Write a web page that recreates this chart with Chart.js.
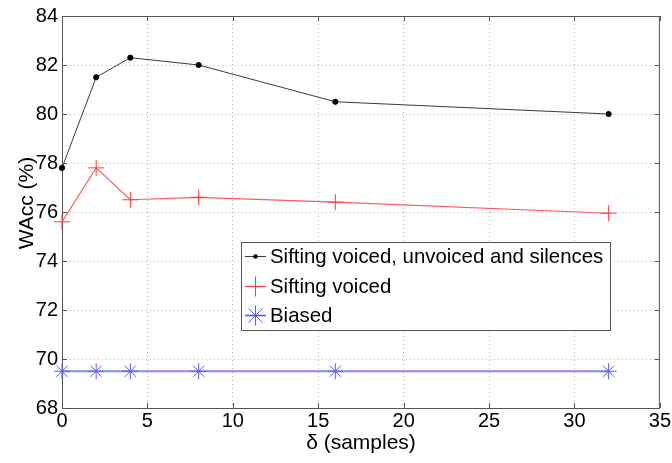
<!DOCTYPE html>
<html><head><meta charset="utf-8">
<script src="https://cdn.jsdelivr.net/npm/chart.js@4"></script>
<style>html,body{margin:0;padding:0;background:#fff;overflow:hidden}</style>
</head><body><canvas id="c" width="672" height="463" style="width:672px;height:463px;display:block"></canvas>
<script>
const deltas = [0, 2, 4, 8, 16, 32];
const siftAll = [77.8, 81.5, 82.3, 82.0, 80.5, 80.0];
const siftVoiced = [75.6, 77.8, 76.5, 76.6, 76.4, 75.95];
const biased = [69.5, 69.5, 69.5, 69.5, 69.5, 69.5];
const seriesLabels = ['Sifting voiced, unvoiced and silences', 'Sifting voiced', 'Biased'];
const xTicks = [0, 5, 10, 15, 20, 25, 30, 35];
const yTicks = [68, 70, 72, 74, 76, 78, 80, 82, 84];
const xTitle = 'δ (samples)';
const yTitle = 'WAcc (%)';

const FONT = "'Liberation Sans', Arial, Helvetica, sans-serif";
const TICKFONT = "'Liberation Sans Narrow', 'Arial Narrow', 'Liberation Sans', Arial, sans-serif";
const toPts = ys => deltas.map((x, i) => ({x, y: ys[i]}));

const styles = [
  {line: '#3a3a3a', lw: 1, mk: 'circle', mc: '#000000', r: 2.6},
  {line: '#ff5a5a', lw: 1.2, mk: 'cross', mc: '#ff3b3b', r: 8},
  {line: '#8a8aff', lw: 2, mk: 'star', mc: '#5a5aff', r: 8}
];

function drawMarker(ctx, type, x, y, r, color) {
  ctx.save();
  ctx.strokeStyle = color; ctx.fillStyle = color; ctx.lineWidth = 1;
  ctx.beginPath();
  if (type === 'circle') {
    ctx.arc(x, y, r, 0, Math.PI * 2); ctx.fill();
  } else {
    ctx.moveTo(x - r, y); ctx.lineTo(x + r, y);
    ctx.moveTo(x, y - r); ctx.lineTo(x, y + r);
    if (type === 'star') {
      const d = r * 0.7071;
      ctx.moveTo(x - d, y - d); ctx.lineTo(x + d, y + d);
      ctx.moveTo(x - d, y + d); ctx.lineTo(x + d, y - d);
    }
    ctx.stroke();
  }
  ctx.restore();
}

const framePlugin = {
  id: 'frame',
  beforeDatasetsDraw(chart) {
    const {ctx, chartArea: a, scales} = chart;
    ctx.save();
    ctx.strokeStyle = '#555'; ctx.lineWidth = 1;
    ctx.strokeRect(a.left + 0.5, a.top + 0.5, a.right - a.left - 1, a.bottom - a.top);
    ctx.beginPath();
    const tl = 5;
    xTicks.forEach(v => {
      const px = Math.round(scales.x.getPixelForValue(v)) + 0.5;
      ctx.moveTo(px, a.bottom); ctx.lineTo(px, a.bottom - tl);
      ctx.moveTo(px, a.top); ctx.lineTo(px, a.top + tl);
    });
    yTicks.forEach(v => {
      const py = Math.round(scales.y.getPixelForValue(v)) + 0.5;
      ctx.moveTo(a.left, py); ctx.lineTo(a.left + tl, py);
      ctx.moveTo(a.right, py); ctx.lineTo(a.right - tl, py);
    });
    ctx.stroke();
    ctx.restore();
  },
  afterDatasetsDraw(chart) {
    const {ctx} = chart;
    // legend
    const L = 241, T = 242, R = 610, B = 330;
    ctx.save();
    ctx.fillStyle = '#fff';
    ctx.fillRect(L, T, R - L, B - T);
    ctx.strokeStyle = '#555'; ctx.lineWidth = 1;
    ctx.strokeRect(L + 0.5, T + 0.5, R - L, B - T);
    ctx.font = '20.4px ' + FONT;
    ctx.textBaseline = 'alphabetic';
    ctx.fillStyle = '#000';
    const rows = [256, 286, 315];
    chart.data.datasets.forEach((ds, i) => {
      const st = styles[i];
      const y = rows[i];
      ctx.strokeStyle = st.line; ctx.lineWidth = st.lw;
      ctx.beginPath(); ctx.moveTo(245, y + 0.5); ctx.lineTo(266, y + 0.5); ctx.stroke();
      drawMarker(ctx, st.mk, 255.5, y + 0.5, st.mk === 'circle' ? 2.2 : 10, st.mc);
      ctx.fillStyle = '#000';
      ctx.fillText(ds.label, 270, y + 7);
    });
    // axis titles
    ctx.font = '21px ' + FONT;
    ctx.textAlign = 'center';
    ctx.textBaseline = 'middle';
    ctx.fillText(xTitle, 361, 443);
    ctx.translate(27, 203);
    ctx.rotate(-Math.PI / 2);
    ctx.fillText(yTitle, 0, 0);
    ctx.restore();
  }
};

const datasets = [siftAll, siftVoiced, biased].map((ys, i) => ({
  label: seriesLabels[i],
  data: toPts(ys),
  borderColor: styles[i].line,
  borderWidth: styles[i].lw,
  pointStyle: styles[i].mk,
  pointRadius: styles[i].r,
  pointBorderColor: styles[i].mc,
  pointBackgroundColor: styles[i].mc,
  pointBorderWidth: 1,
  tension: 0,
  fill: false,
  clip: false
}));

new Chart(document.getElementById('c'), {
  type: 'line',
  data: {datasets},
  options: {
    responsive: false,
    animation: false,
    devicePixelRatio: 1,
    layout: {padding: {top: 14, right: 12, left: 0, bottom: 0}},
    plugins: {legend: {display: false}, tooltip: {enabled: false}},
    scales: {
      x: {
        type: 'linear', min: 0, max: 35,
        afterBuildTicks: s => { s.ticks = xTicks.map(v => ({value: v})); },
        afterFit: s => { s.height = 55; },
        grid: {color: c => (c.tick && (c.tick.value === 0 || c.tick.value === 35)) ? 'rgba(0,0,0,0)' : '#b8b8b8', drawTicks: false, lineWidth: 1},
        border: {display: false, dash: [1, 3]},
        ticks: {color: '#000', font: {family: TICKFONT, size: 20}, padding: 1, maxRotation: 0, autoSkip: false}
      },
      y: {
        type: 'linear', min: 68, max: 84,
        afterBuildTicks: s => { s.ticks = yTicks.map(v => ({value: v})); },
        afterFit: s => { s.width = 62; },
        grid: {color: c => (c.tick && (c.tick.value === 68 || c.tick.value === 84)) ? 'rgba(0,0,0,0)' : '#b8b8b8', drawTicks: false, lineWidth: 1},
        border: {display: false, dash: [1, 3]},
        ticks: {color: '#000', font: {family: TICKFONT, size: 20}, padding: 4, autoSkip: false}
      }
    }
  },
  plugins: [framePlugin]
});
</script></body></html>
